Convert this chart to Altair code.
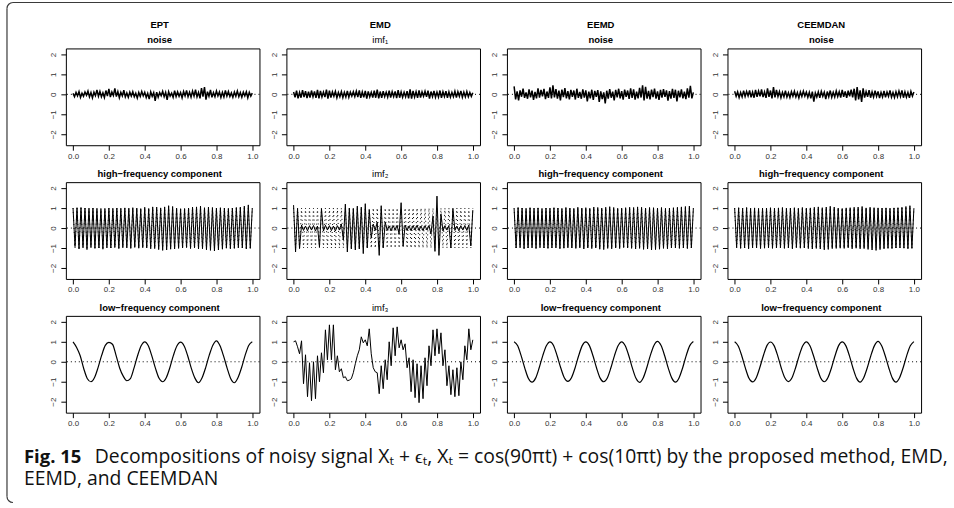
import altair as alt
import numpy as np
import pandas as pd

# ---------------------------------------------------------------------------
# Sample times (regular grids on [0, 1])
# ---------------------------------------------------------------------------
t_noise = np.linspace(0, 1, 121)
t_hf = np.linspace(0, 1, 91)
t_lf = np.linspace(0, 1, 51)

# ---------------------------------------------------------------------------
# Row 1: noise / imf1
# ---------------------------------------------------------------------------
ept_noise = [
    0.05, -0.12, 0.10, -0.08, 0.14, -0.15, 0.06, -0.10, 0.12, -0.05,
    0.16, -0.13, 0.09, -0.18, 0.11, -0.07, 0.22, -0.10, 0.15, -0.12,
    0.08, -0.16, 0.19, -0.09, 0.27, -0.14, 0.12, -0.06, 0.30, -0.11,
    0.14, -0.17, 0.10, -0.08, 0.21, -0.13, 0.07, -0.15, 0.11, -0.09,
    0.13, -0.12, 0.06, -0.19, 0.09, -0.11, 0.14, -0.08, 0.10, -0.16,
    0.05, -0.24, 0.12, -0.10, 0.08, -0.33, 0.11, -0.14, 0.09, -0.07,
    0.15, -0.12, 0.10, -0.28, 0.13, -0.09, 0.06, -0.15, 0.18, -0.11,
    0.12, -0.10, 0.09, -0.17, 0.14, -0.08, 0.20, -0.12, 0.11, -0.14,
    0.16, -0.09, 0.24, -0.13, 0.10, -0.20, 0.31, -0.11, 0.36, -0.27,
    0.13, -0.10, 0.22, -0.15, 0.09, -0.12, 0.17, -0.08, 0.12, -0.16,
    0.10, -0.13, 0.19, -0.09, 0.14, -0.11, 0.07, -0.15, 0.12, -0.10,
    0.16, -0.12, 0.09, -0.14, 0.11, -0.08, 0.13, -0.17, 0.10, -0.09,
    0.06,
]
emd_imf1 = [
    0.12, -0.15, 0.18, -0.20, 0.10, -0.17, 0.21, -0.14, 0.16, -0.19,
    0.13, -0.16, 0.19, -0.12, 0.15, -0.18, 0.22, -0.20, 0.17, -0.13,
    0.11, -0.14, 0.24, -0.21, 0.18, -0.16, 0.12, -0.10, 0.15, -0.17,
    0.09, -0.12, 0.14, -0.16, 0.10, -0.13, 0.17, -0.15, 0.11, -0.09,
    0.13, -0.11, 0.16, -0.14, 0.20, -0.18, 0.12, -0.15, 0.17, -0.21,
    0.15, -0.13, 0.10, -0.16, 0.19, -0.17, 0.23, -0.20, 0.14, -0.18,
    0.16, -0.12, 0.11, -0.14, 0.18, -0.16, 0.13, -0.11, 0.15, -0.19,
    0.21, -0.17, 0.12, -0.15, 0.10, -0.13, 0.16, -0.20, 0.25, -0.22,
    0.17, -0.14, 0.13, -0.18, 0.20, -0.16, 0.12, -0.10, 0.15, -0.13,
    0.18, -0.21, 0.14, -0.12, 0.17, -0.15, 0.11, -0.14, 0.19, -0.17,
    0.13, -0.11, 0.16, -0.18, 0.12, -0.14, 0.10, -0.12, 0.15, -0.16,
    0.13, -0.10, 0.17, -0.15, 0.11, -0.13, 0.14, -0.12, 0.09, -0.11,
    0.08,
]
eemd_noise = [
    0.40, -0.25, 0.15, -0.30, 0.20, -0.12, 0.28, -0.18, 0.10, -0.22,
    0.25, -0.15, 0.18, -0.28, 0.12, -0.20, 0.30, -0.16, 0.22, -0.10,
    0.27, -0.24, 0.14, -0.18, 0.35, -0.20, 0.45, -0.15, 0.26, -0.22,
    0.18, -0.30, 0.24, -0.14, 0.31, -0.20, 0.16, -0.25, 0.22, -0.12,
    0.19, -0.26, 0.28, -0.18, 0.12, -0.22, 0.25, -0.16, 0.20, -0.35,
    0.14, -0.20, 0.23, -0.28, 0.17, -0.13, 0.21, -0.38, 0.15, -0.24,
    0.10, -0.45, 0.18, -0.22, 0.26, -0.17, 0.13, -0.30, 0.22, -0.15,
    0.28, -0.20, 0.16, -0.26, 0.24, -0.12, 0.19, -0.23, 0.30, -0.18,
    0.25, -0.27, 0.14, -0.20, 0.33, -0.16, 0.45, -0.30, 0.38, -0.22,
    0.17, -0.25, 0.24, -0.14, 0.29, -0.21, 0.15, -0.28, 0.22, -0.17,
    0.26, -0.13, 0.20, -0.32, 0.16, -0.22, 0.27, -0.18, 0.23, -0.35,
    0.18, -0.15, 0.25, -0.20, 0.14, -0.24, 0.30, -0.17, 0.42, -0.20,
    0.10,
]
ceemdan_noise = [
    0.15, -0.10, 0.12, -0.16, 0.09, -0.13, 0.18, -0.11, 0.14, -0.08,
    0.20, -0.15, 0.11, -0.17, 0.22, -0.12, 0.16, -0.10, 0.25, -0.14,
    0.12, -0.18, 0.30, -0.13, 0.19, -0.20, 0.36, -0.15, 0.22, -0.11,
    0.14, -0.17, 0.10, -0.12, 0.18, -0.14, 0.08, -0.16, 0.13, -0.10,
    0.15, -0.13, 0.09, -0.18, 0.12, -0.11, 0.16, -0.09, 0.11, -0.15,
    0.10, -0.20, 0.13, -0.36, 0.07, -0.14, 0.12, -0.17, 0.15, -0.10,
    0.11, -0.24, 0.14, -0.12, 0.19, -0.15, 0.10, -0.13, 0.17, -0.11,
    0.13, -0.16, 0.22, -0.12, 0.15, -0.18, 0.18, -0.10, 0.24, -0.15,
    0.28, -0.30, 0.36, -0.25, 0.20, -0.38, 0.30, -0.16, 0.14, -0.12,
    0.21, -0.17, 0.12, -0.14, 0.18, -0.11, 0.15, -0.19, 0.10, -0.13,
    0.17, -0.15, 0.12, -0.10, 0.19, -0.14, 0.09, -0.16, 0.13, -0.12,
    0.16, -0.11, 0.20, -0.17, 0.12, -0.14, 0.10, -0.18, 0.15, -0.09,
    0.12,
]

# ---------------------------------------------------------------------------
# Row 2: high-frequency component (true signal dotted) / imf2
# ---------------------------------------------------------------------------
hf_true = [
    1, -1, 1, -1, 1, -1, 1, -1, 1, -1,
    1, -1, 1, -1, 1, -1, 1, -1, 1, -1,
    1, -1, 1, -1, 1, -1, 1, -1, 1, -1,
    1, -1, 1, -1, 1, -1, 1, -1, 1, -1,
    1, -1, 1, -1, 1, -1, 1, -1, 1, -1,
    1, -1, 1, -1, 1, -1, 1, -1, 1, -1,
    1, -1, 1, -1, 1, -1, 1, -1, 1, -1,
    1, -1, 1, -1, 1, -1, 1, -1, 1, -1,
    1, -1, 1, -1, 1, -1, 1, -1, 1, -1,
    1,
]
ept_hf = [
    1.00, -0.93, 1.02, -1.05, 1.03, -0.97, 1.00, -1.08, 0.98, -0.96,
    1.00, -1.02, 0.97, -1.00, 0.95, -1.06, 0.96, -0.98, 0.99, -1.00,
    0.97, -0.95, 1.00, -1.03, 0.98, -0.97, 1.01, -0.99, 0.99, -1.02,
    1.02, -0.96, 1.00, -1.01, 0.97, -0.98, 1.04, -1.00, 0.98, -1.04,
    1.06, -1.03, 1.05, -1.08, 1.01, -1.12, 1.06, -1.10, 1.12, -1.06,
    1.08, -1.05, 1.00, -1.02, 0.97, -1.00, 0.98, -0.98, 1.00, -1.03,
    1.05, -0.99, 1.06, -1.05, 1.10, -1.04, 1.02, -1.09, 1.05, -1.12,
    1.03, -1.15, 1.00, -1.10, 1.02, -1.06, 1.00, -1.01, 0.97, -1.04,
    1.00, -1.02, 1.03, -0.98, 1.05, -1.00, 1.10, -1.05, 1.16, -1.02,
    1.00,
]
emd_imf2 = [
    1.15, -1.20, 0.97, -1.03, 0.15, -0.12, 0.10, -0.14, 0.12, -0.10,
    0.13, -0.15, 0.10, -0.95, 0.97, -0.15, 0.14, -0.10, 0.12, -0.13,
    0.10, -0.15, 0.12, -0.10, 0.20, -0.60, 1.20, -1.20, 1.00, -1.05,
    0.98, -1.10, 1.10, -1.05, 1.05, -1.28, 1.22, -1.00, 0.90, -0.50,
    0.20, -0.12, 0.30, -1.37, 1.12, -1.00, 0.30, -0.12, 0.10, -0.14,
    0.12, -0.10, 0.13, -0.30, 1.27, -0.90, 0.15, -0.12, 0.10, -0.13,
    0.12, -0.10, 0.14, -0.12, 0.10, -0.13, 0.12, -0.10, 0.13, -0.30,
    0.60, -1.17, 1.60, -1.37, 0.70, -0.15, 0.12, -0.10, 0.13, -1.00,
    0.97, -0.12, 0.10, -0.14, 0.12, -0.10, 0.13, -0.12, 0.15, -0.90,
    0.90,
]
eemd_hf = [
    0.98, -1.00, 1.03, -0.97, 1.00, -1.04, 0.97, -1.00, 1.02, -0.98,
    0.99, -1.03, 1.01, -0.97, 0.96, -1.00, 1.00, -1.02, 0.98, -0.99,
    1.02, -0.98, 1.00, -1.04, 0.97, -1.01, 1.03, -0.98, 1.00, -1.00,
    0.98, -1.02, 1.04, -0.99, 1.00, -1.05, 1.02, -1.00, 0.99, -1.03,
    1.05, -1.00, 1.03, -1.06, 1.00, -1.08, 1.04, -1.02, 1.07, -1.04,
    1.03, -1.00, 0.99, -1.03, 1.00, -0.98, 1.02, -1.00, 1.04, -1.02,
    1.03, -1.05, 1.06, -1.02, 1.04, -1.07, 1.00, -1.05, 1.03, -1.10,
    1.02, -1.08, 1.00, -1.06, 1.03, -1.02, 0.98, -1.04, 1.00, -1.00,
    1.02, -0.99, 1.04, -1.02, 1.06, -1.00, 1.08, -1.03, 1.10, -1.00,
    1.00,
]
ceemdan_hf = [
    1.00, -0.97, 1.02, -1.02, 0.99, -1.00, 1.03, -1.04, 0.98, -0.99,
    1.01, -1.00, 0.97, -1.03, 0.99, -1.01, 1.00, -0.98, 1.02, -1.02,
    0.98, -1.00, 1.01, -0.99, 1.03, -1.02, 0.99, -1.00, 1.00, -1.04,
    1.02, -0.98, 0.99, -1.01, 1.03, -1.00, 1.00, -1.03, 1.01, -1.05,
    1.04, -1.02, 1.06, -1.05, 1.02, -1.09, 1.05, -1.07, 1.09, -1.03,
    1.05, -1.02, 1.00, -1.01, 0.98, -1.02, 1.01, -0.99, 1.02, -1.04,
    1.04, -1.01, 1.05, -1.04, 1.08, -1.03, 1.01, -1.07, 1.04, -1.10,
    1.02, -1.12, 1.01, -1.08, 1.00, -1.04, 1.01, -1.02, 0.98, -1.03,
    1.01, -1.00, 1.02, -0.99, 1.04, -1.01, 1.08, -1.04, 1.12, -1.02,
    0.98,
]

# ---------------------------------------------------------------------------
# Row 3: low-frequency component / imf3
# ---------------------------------------------------------------------------
ept_lf = [
    1.00, 0.72, 0.30, -0.35, -0.85, -1.00, -0.79, -0.28, 0.33, 0.82,
    0.97, 0.88, 0.32, -0.31, -0.72, -0.95, -0.84, -0.32, 0.30, 0.80,
    1.00, 0.80, 0.28, -0.33, -0.83, -1.00, -0.80, -0.30, 0.32, 0.80,
    0.98, 0.79, 0.29, -0.33, -0.82, -1.05, -0.80, -0.29, 0.33, 0.83,
    1.05, 0.80, 0.28, -0.33, -0.85, -1.05, -0.80, -0.30, 0.32, 0.82,
    1.00,
]
emd_imf3 = [
    1.00, 1.05, 0.75, 0.40, 1.05, -1.10, 0.35, -1.75, -0.05, -1.95,
    0.00, -1.85, 0.30, -1.00, 0.45, -0.55, 1.60, 0.10, 1.85, 0.10,
    1.85, -0.40, 0.30, -0.50, -0.35, -0.80, -0.75, -0.95, -0.92, -0.85,
    -0.55, -0.10, 0.30, 0.60, 1.25, 0.95, 1.10, 0.80, 1.65, 0.40,
    -0.30, -0.50, -0.55, -1.60, -0.20, -1.35, 0.10, -0.90, 1.00, -0.20,
    1.70, 0.30, 1.75, 0.70, 1.10, 0.60, 0.90, -0.30, 0.20, -1.50,
    0.10, -1.80, -0.10, -2.05, -0.20, -1.85, 0.20, -1.20, 0.80, -0.20,
    1.60, 0.30, 1.65, 0.40, 1.45, -0.20, 0.60, -1.20, -0.20, -1.65,
    -0.40, -1.75, -0.30, -1.70, 0.00, -0.90, 0.80, 0.10, 1.65, 0.60,
    1.10,
]
eemd_lf = [
    1.00, 0.80, 0.28, -0.33, -0.84, -1.02, -0.82, -0.30, 0.31, 0.80,
    1.00, 0.82, 0.30, -0.30, -0.80, -0.98, -0.80, -0.31, 0.30, 0.81,
    1.00, 0.81, 0.30, -0.31, -0.82, -1.00, -0.81, -0.30, 0.31, 0.80,
    1.00, 0.80, 0.30, -0.32, -0.83, -1.03, -0.81, -0.30, 0.32, 0.82,
    1.02, 0.81, 0.30, -0.32, -0.82, -1.02, -0.81, -0.31, 0.31, 0.81,
    1.02,
]
ceemdan_lf = [
    1.00, 0.79, 0.29, -0.32, -0.83, -1.01, -0.81, -0.30, 0.30, 0.81,
    0.99, 0.81, 0.31, -0.31, -0.80, -0.99, -0.80, -0.30, 0.31, 0.80,
    1.00, 0.80, 0.30, -0.30, -0.81, -1.00, -0.80, -0.31, 0.30, 0.81,
    1.00, 0.81, 0.31, -0.31, -0.82, -1.02, -0.80, -0.30, 0.31, 0.81,
    1.02, 0.80, 0.30, -0.31, -0.82, -1.02, -0.80, -0.30, 0.31, 0.80,
    1.01,
]

# ---------------------------------------------------------------------------
# Panel styling
# ---------------------------------------------------------------------------
W, H = 194, 97
X_DOMAIN = [-0.04, 1.04]
Y_DOMAIN = [-2.55, 2.3]
AX_FONT = "Liberation Sans"
CAP_FONT = "Open Sans"
TITLE_X = W / 2 - 3

x_axis = alt.Axis(
    values=[0, 0.2, 0.4, 0.6, 0.8, 1.0], format=".1f", title=None,
    grid=False, domain=False, tickSize=5, tickColor="black",
    labelFont=AX_FONT, labelFontSize=8, labelColor="#333",
    labelPadding=2, labelFlush=False, labelOverlap=False,
)
y_axis = alt.Axis(
    values=[-2, -1, 0, 1, 2], title=None, grid=False, domain=False,
    tickSize=5, tickColor="black", labelAngle=270, labelAlign="center",
    labelBaseline="bottom", labelFont=AX_FONT, labelFontSize=8,
    labelColor="#333", labelPadding=3, labelFlush=False, labelOverlap=False,
)
x_scale = alt.Scale(domain=X_DOMAIN, nice=False, zero=False)
y_scale = alt.Scale(domain=Y_DOMAIN, nice=False, zero=False)
one = pd.DataFrame({"k": [0]})


def heading(text, bold=True, level=0):
    """Panel heading drawn just above the plot box (level 1 = method name)."""
    return alt.Chart(one).mark_text(
        text=text, font=AX_FONT, fontSize=9.5,
        fontWeight="bold" if bold else "normal", color="black",
        align="center", baseline="alphabetic",
    ).encode(x=alt.value(TITLE_X), y=alt.value(-5 if level == 0 else -20.5))


def make_panel(headings, t, est, true=None, smooth=False, width=1.0, extras=()):
    zero = alt.Chart(pd.DataFrame({"v": [0.0]})).mark_rule(
        color="black", strokeWidth=1, strokeDash=[1, 3]
    ).encode(y=alt.Y("v:Q", scale=y_scale, axis=y_axis))
    layers = [zero]
    if true is not None:
        layers.append(
            alt.Chart(pd.DataFrame({"t": t, "v": true})).mark_line(
                color="black", strokeWidth=1, strokeDash=[1, 3]
            ).encode(
                x=alt.X("t:Q", scale=x_scale, axis=x_axis),
                y=alt.Y("v:Q", scale=y_scale, axis=y_axis),
            )
        )
    layers.append(
        alt.Chart(pd.DataFrame({"t": t, "v": est})).mark_line(
            color="black", strokeWidth=width,
            interpolate="monotone" if smooth else "linear",
        ).encode(
            x=alt.X("t:Q", scale=x_scale, axis=x_axis),
            y=alt.Y("v:Q", scale=y_scale, axis=y_axis),
        )
    )
    layers.extend(headings)
    layers.extend(extras)
    return alt.layer(*layers).properties(width=W, height=H)


# ---------------------------------------------------------------------------
# Figure frame and caption (positioned relative to the top-left panel)
# ---------------------------------------------------------------------------
FRAME = "#3a3a3a"
fl, ft, fb, fr, rad = -59, -46, 455, 888, 6

frame_layers = [
    alt.Chart(one).mark_rule(color=FRAME, strokeWidth=1.2).encode(
        x=alt.value(fl + rad), x2=alt.value(fr), y=alt.value(ft)),
    alt.Chart(one).mark_rule(color=FRAME, strokeWidth=1.2).encode(
        x=alt.value(fl), y=alt.value(ft + rad), y2=alt.value(fb - rad)),
    alt.Chart(one).mark_arc(
        radius=rad + 0.6, radius2=rad - 0.6, theta=4.712389, theta2=6.283185,
        color=FRAME).encode(x=alt.value(fl + rad), y=alt.value(ft + rad)),
    alt.Chart(one).mark_arc(
        radius=rad + 0.6, radius2=rad - 0.6, theta=3.141593, theta2=4.712389,
        color=FRAME).encode(x=alt.value(fl + rad), y=alt.value(fb - rad)),
    alt.Chart(one).mark_text(
        text="Fig. 15", font=CAP_FONT, fontSize=18.5, fontWeight="bold",
        align="left", baseline="alphabetic", color="#111").encode(
        x=alt.value(-42), y=alt.value(415)),
    alt.Chart(one).mark_text(
        text="Decompositions of noisy signal Xₜ + ϵₜ, Xₜ = cos(90πt) + cos(10πt) "
             "by the proposed method, EMD,",
        font=CAP_FONT, fontSize=19.4, align="left", baseline="alphabetic",
        color="#111").encode(x=alt.value(29), y=alt.value(415)),
    alt.Chart(one).mark_text(
        text="EEMD, and CEEMDAN", font=CAP_FONT, fontSize=19.4, align="left",
        baseline="alphabetic", color="#111").encode(
        x=alt.value(-42), y=alt.value(437)),
]

# ---------------------------------------------------------------------------
# Panels: 3 rows x 4 columns
# ---------------------------------------------------------------------------
NW = 1.5   # noise traces are drawn a little heavier
LW = 1.2   # smooth low-frequency traces
HF = "high−frequency component"
LF = "low−frequency component"
panels = [
    make_panel([heading("EPT", level=1), heading("noise")], t_noise, ept_noise,
               width=NW, extras=frame_layers),
    make_panel([heading("EMD", level=1), heading("imf₁", bold=False)],
               t_noise, emd_imf1, width=NW),
    make_panel([heading("EEMD", level=1), heading("noise")], t_noise, eemd_noise,
               width=NW),
    make_panel([heading("CEEMDAN", level=1), heading("noise")], t_noise,
               ceemdan_noise, width=NW),

    make_panel([heading(HF)], t_hf, ept_hf, true=hf_true),
    make_panel([heading("imf₂", bold=False)], t_hf, emd_imf2, true=hf_true),
    make_panel([heading(HF)], t_hf, eemd_hf, true=hf_true),
    make_panel([heading(HF)], t_hf, ceemdan_hf, true=hf_true),

    make_panel([heading(LF)], t_lf, ept_lf, smooth=True, width=LW),
    make_panel([heading("imf₃", bold=False)], t_hf, emd_imf3),
    make_panel([heading(LF)], t_lf, eemd_lf, smooth=True, width=LW),
    make_panel([heading(LF)], t_lf, ceemdan_lf, smooth=True, width=LW),
]

chart = alt.concat(
    *panels, columns=4, spacing={"row": 37, "column": 27}, bounds="flush"
).properties(
    padding={"left": 5, "top": 0, "right": 0, "bottom": 0},
    background="white",
).configure_view(stroke="black", strokeWidth=1)

chart.save("out.html", embed_options={"renderer": "svg", "actions": False})
